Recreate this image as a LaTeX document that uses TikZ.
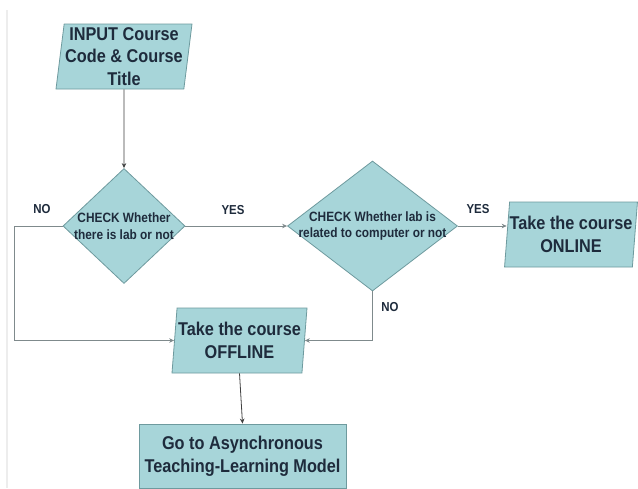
\documentclass[tikz,border=0pt]{standalone}
\usepackage{fontspec}
\setmainfont{Liberation Sans}[FakeStretch=0.88]
\usetikzlibrary{shapes.geometric,arrows.meta}
\definecolor{boxfill}{HTML}{A7D5D9}
\definecolor{boxdraw}{HTML}{6E9A9E}
\definecolor{txt}{HTML}{1E2B3C}
\definecolor{linec}{HTML}{7F8A8C}
\tikzset{
  para/.style={trapezium, trapezium left angle=82, trapezium right angle=98,
    trapezium stretches body=true, draw=boxdraw, fill=boxfill, line width=0.8pt,
    inner sep=0pt, align=center, text=txt,
    font=\fontsize{18.5}{22.5}\selectfont\bfseries},
  dia/.style={diamond, draw=boxdraw, fill=boxfill, line width=0.8pt, inner sep=0pt},
  diatext/.style={align=center, text=txt, inner sep=0pt,
    font=\fontsize{13.5}{16.5}\selectfont\bfseries},
  rectbox/.style={rectangle, draw=boxdraw, fill=boxfill, line width=0.8pt, inner sep=0pt,
    align=center, text=txt, font=\fontsize{18.5}{23}\selectfont\bfseries},
  lbl/.style={text=txt, font=\fontsize{13}{15}\selectfont\bfseries, inner sep=0pt},
  conn/.style={draw=linec, line width=0.8pt, -{Stealth[length=5pt,width=4.5pt]}},
  darkconn/.style={draw=black!75, line width=0.8pt, -{Stealth[length=5pt,width=4.5pt]}}
}
\begin{document}
\begin{tikzpicture}[x=1pt,y=-1pt]
\useasboundingbox (0,0) rectangle (638,488);
\fill[white] (0,0) rectangle (638,488);
\draw[black!7, line width=1.5pt] (7,10) -- (7,488);

\node[para, minimum width=136pt, minimum height=65pt] (inp) at (124,56.5)
  {INPUT Course\\Code \& Course\\Title};
\node[dia, minimum width=122pt, minimum height=115pt] (d1) at (124,226) {};
\node[diatext] (d1t) at (124,226) {CHECK Whether\\there is lab or not};
\node[dia, minimum width=170pt, minimum height=130pt] (d2) at (372.5,226) {};
\node[diatext] (d2t) at (372.5,226) {CHECK Whether lab is\\related to computer or not};
\node[para, minimum width=132pt, minimum height=65pt] (on) at (571,234.5)
  {Take the course\\ONLINE};
\node[para, minimum width=135pt, minimum height=65pt] (off) at (239.5,340.5)
  {Take the course\\OFFLINE};
\node[rectbox, minimum width=207pt, minimum height=64pt] (fin) at (242.5,456)
  {Go to Asynchronous\\Teaching-Learning Model};

\path (d1.west) ++(-48,0) coordinate (nocorner);

\draw[darkconn] (inp.south) -- (d1.north);
\draw[conn] (d1.east) -- (d2.west);
\draw[conn] (d2.east) -- (d2.east -| on.left side);
\draw[conn] (d1.west) -- (nocorner) |- (off.left side);
\draw[conn] (d2.south) |- (off.right side);
\draw[darkconn] (off.south) -- (fin.north);

\node[lbl] (no1) at (42,209) {NO};
\node[lbl] (yes1) at (233,210) {YES};
\node[lbl] (yes2) at (478,209) {YES};
\node[lbl] (no2) at (390,307) {NO};
\end{tikzpicture}
\end{document}
